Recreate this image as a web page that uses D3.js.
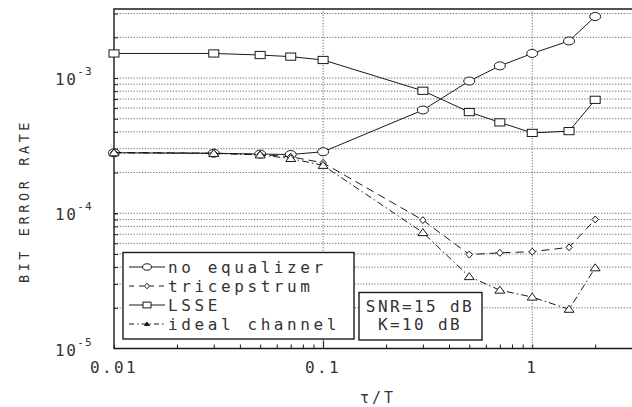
<!DOCTYPE html>
<html><head><meta charset="utf-8">
<script src="https://cdn.jsdelivr.net/npm/d3@7"></script>
<style>
html,body{margin:0;padding:0;background:#fff;}
svg{display:block;}
text{font-family:"DejaVu Sans Mono","Liberation Mono",monospace;fill:#333;}
</style></head>
<body>
<svg id="chart" width="632" height="407"></svg>
<script>
// ---- data ----
const tau = [0.01, 0.03, 0.05, 0.07, 0.1, 0.3, 0.5, 0.7, 1, 1.5, 2];
const noEqualizer  = [2.80e-4, 2.78e-4, 2.74e-4, 2.72e-4, 2.85e-4, 5.8e-4, 9.5e-4, 1.23e-3, 1.52e-3, 1.88e-3, 2.85e-3];
const tricepstrum  = [2.82e-4, 2.78e-4, 2.72e-4, 2.62e-4, 2.36e-4, 8.9e-5, 4.95e-5, 5.1e-5, 5.2e-5, 5.6e-5, 9.0e-5];
const lsse         = [1.52e-3, 1.52e-3, 1.48e-3, 1.44e-3, 1.36e-3, 8.05e-4, 5.6e-4, 4.7e-4, 3.93e-4, 4.05e-4, 6.9e-4];
const idealChannel = [2.80e-4, 2.77e-4, 2.70e-4, 2.54e-4, 2.26e-4, 7.2e-5, 3.4e-5, 2.7e-5, 2.4e-5, 1.95e-5, 3.95e-5];
const seriesNames = ["no equalizer", "tricepstrum", "LSSE", "ideal channel"];
const xTickValues = [0.01, 0.1, 1];
const xTickLabels = ["0.01", "0.1", "1"];
const yTickValues = [1e-5, 1e-4, 1e-3];
const yTickExponents = ["-5", "-4", "-3"];
const annotation = ["SNR=15 dB", "K=10 dB"];
const xLabel = "\u03C4/T";
const yLabel = "BIT ERROR RATE";

// ---- layout ----
const L = 114, R = 632, T = 9, B = 348.5;
const svg = d3.select("#chart");
const x = d3.scaleLog().domain([0.01, 3]).range([L, R]);
const y = d3.scaleLog().domain([1e-5, 3.24e-3]).range([B, T]);
const ink = "#1a1a1a";

// gridlines
const minorY = [];
[1e-5, 1e-4, 1e-3].forEach(d => { for (let k = 1; k <= 9; k++) { const v = d * k; if (v > 1e-5 && v <= 3.2e-3) minorY.push(v); } });
svg.append("g").selectAll("line").data(minorY).join("line")
  .attr("x1", L).attr("x2", R).attr("y1", d => y(d)).attr("y2", d => y(d))
  .attr("stroke", "#444").attr("stroke-width", 0.8).attr("stroke-dasharray", "1.2,1.6");
svg.append("g").selectAll("line").data([0.1, 1]).join("line")
  .attr("x1", d => x(d)).attr("x2", d => x(d)).attr("y1", T).attr("y2", B)
  .attr("stroke", "#444").attr("stroke-width", 0.8).attr("stroke-dasharray", "1.2,1.6");

// axes with inward ticks
const minorX = [];
[0.01, 0.1, 1].forEach(d => { for (let k = 1; k <= 9; k++) { const v = d * k; if (v <= 3) minorX.push(v); } });
const xAxis = d3.axisBottom(x).tickValues(minorX).tickSize(-4).tickFormat("");
const gx = svg.append("g").attr("transform", `translate(0,${B})`).call(xAxis);
gx.select(".domain").remove();
gx.selectAll(".tick line").attr("stroke", ink).attr("y2", d => (d === 0.1 ? -8 : -4));
const yAxis = d3.axisLeft(y).tickValues(minorY.concat([1e-4, 1e-3])).tickSize(-4).tickFormat("");
const gy = svg.append("g").attr("transform", `translate(${L},0)`).call(yAxis);
gy.select(".domain").remove();
gy.selectAll(".tick line").attr("stroke", ink);

// frame
svg.append("path").attr("d", `M${R},${T}H${L}V${B}H${R}`)
  .attr("fill", "none").attr("stroke", ink).attr("stroke-width", 1.4);

// tick labels
svg.append("g").selectAll("text").data(xTickValues).join("text")
  .attr("x", d => x(d)).attr("y", 373).attr("text-anchor", "middle")
  .attr("font-size", 16).attr("letter-spacing", 2.4)
  .text((d, i) => xTickLabels[i]);
const yl = svg.append("g").selectAll("text").data(yTickValues).join("text")
  .attr("x", 55).attr("y", d => y(d) + 7).attr("font-size", 16).attr("letter-spacing", 1.5);
yl.append("tspan").text("10");
yl.append("tspan").attr("dy", -10).attr("font-size", 11).attr("letter-spacing", 1).text((d, i) => yTickExponents[i]);

// axis titles
svg.append("text").attr("x", 378).attr("y", 403).attr("text-anchor", "middle")
  .attr("font-size", 15).attr("letter-spacing", 3).text(xLabel);
svg.append("text").attr("transform", "translate(29,201) rotate(-90)").attr("text-anchor", "middle")
  .attr("font-size", 13.5).attr("letter-spacing", 3.6).attr("font-family", "DejaVu Sans Condensed, DejaVu Sans").text(yLabel);

// series
const series = [
  { name: seriesNames[0], vals: noEqualizer, dash: null, marker: "circle" },
  { name: seriesNames[1], vals: tricepstrum, dash: "8,5", marker: "diamond" },
  { name: seriesNames[2], vals: lsse, dash: null, marker: "square" },
  { name: seriesNames[3], vals: idealChannel, dash: "7,3,1.5,3", marker: "triangle" }
];
const line = d3.line().x(d => x(d[0])).y(d => y(d[1]));
function drawMarker(g, type, cx, cy, s, filled) {
  const fill = filled ? ink : "#fff";
  if (type === "circle") g.append("ellipse").attr("cx", cx).attr("cy", cy).attr("rx", 5.5 * s).attr("ry", 4 * s).attr("fill", fill).attr("stroke", ink);
  else if (type === "square") g.append("rect").attr("x", cx - 5 * s).attr("y", cy - 3.6 * s).attr("width", 10 * s).attr("height", 7.2 * s).attr("fill", fill).attr("stroke", ink);
  else if (type === "diamond") g.append("path").attr("d", `M${cx},${cy - 3.5 * s}L${cx + 3.2 * s},${cy}L${cx},${cy + 3.5 * s}L${cx - 3.2 * s},${cy}Z`).attr("fill", fill).attr("stroke", ink);
  else if (type === "triangle") g.append("path").attr("d", `M${cx},${cy - 4 * s}L${cx + 5 * s},${cy + 3 * s}L${cx - 5 * s},${cy + 3 * s}Z`).attr("fill", fill).attr("stroke", ink);
}
series.forEach(s => {
  const pts = tau.map((t, i) => [t, s.vals[i]]);
  const g = svg.append("g");
  g.append("path").datum(pts).attr("d", line).attr("fill", "none").attr("stroke", ink)
    .attr("stroke-width", 1).attr("stroke-dasharray", s.dash);
  pts.forEach(p => drawMarker(g, s.marker, x(p[0]), y(p[1]), 1, false));
});

// legend
const lg = svg.append("g");
lg.append("rect").attr("x", 123).attr("y", 252.5).attr("width", 231).attr("height", 86.5)
  .attr("fill", "#fff").attr("stroke", ink).attr("stroke-width", 1.4);
series.forEach((s, i) => {
  const ly = 267 + i * 19;
  lg.append("line").attr("x1", 129).attr("x2", 165).attr("y1", ly).attr("y2", ly)
    .attr("stroke", ink).attr("stroke-dasharray", s.dash ? (i === 1 ? "5,5" : "5,3,1.5,3") : null);
  drawMarker(lg, s.marker, 147, ly, s.marker === "triangle" ? 0.5 : 0.8, s.marker === "triangle");
  lg.append("text").attr("x", 168).attr("y", ly + 6).attr("font-size", 16).attr("letter-spacing", 3.6).text(s.name);
});

// annotation box
const ab = svg.append("g");
ab.append("rect").attr("x", 359).attr("y", 292.5).attr("width", 123).attr("height", 47.5)
  .attr("fill", "#fff").attr("stroke", ink).attr("stroke-width", 1.4);
annotation.forEach((t, i) => {
  ab.append("text").attr("x", 420).attr("y", 312 + i * 18).attr("text-anchor", "middle")
    .attr("font-size", 16).attr("letter-spacing", 2.4).text(t);
});
</script>
</body></html>
